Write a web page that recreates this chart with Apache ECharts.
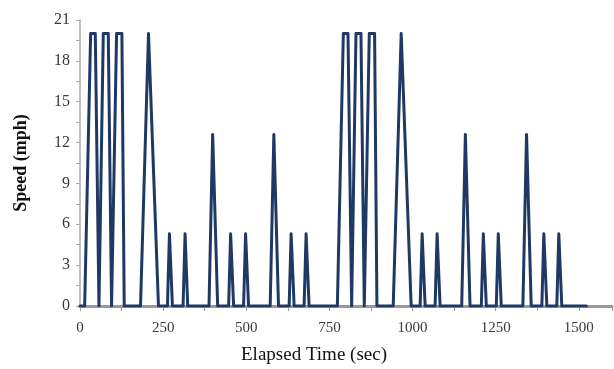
<!DOCTYPE html>
<html>
<head>
<meta charset="utf-8">
<script src="https://cdn.jsdelivr.net/npm/echarts@6/dist/echarts.min.js"></script>
<style>
  html, body { margin: 0; padding: 0; background: #fff; }
  #main { width: 614px; height: 369px; }
</style>
</head>
<body>
<div id="main"></div>
<script>
// elapsed time (sec) and speed (mph)
var elapsedSec = [
  0, 14, 32, 46, 57, 70, 85, 95, 110, 126, 133, 182, 206, 210, 236,
  263, 269, 272, 278, 310, 316, 319, 324, 388, 399, 402, 414,
  447, 453, 456, 462, 492, 498, 501, 507, 572, 583, 586, 597,
  629, 635, 638, 644, 674, 680, 683, 689,
  774, 792, 806, 817, 830, 845, 855, 870, 886, 893, 942, 966, 970, 996,
  1023, 1029, 1032, 1038, 1068, 1074, 1077, 1083, 1148, 1159, 1162, 1173,
  1207, 1213, 1216, 1222, 1252, 1258, 1261, 1267, 1332, 1343, 1346, 1357,
  1389, 1395, 1398, 1404, 1434, 1440, 1443, 1449, 1523
];
var speedMph = [
  0, 0, 20, 20, 0, 20, 20, 0, 20, 20, 0, 0, 20, 20, 0,
  0, 5.3, 5.3, 0, 0, 5.3, 5.3, 0, 0, 12.6, 12.6, 0,
  0, 5.3, 5.3, 0, 0, 5.3, 5.3, 0, 0, 12.6, 12.6, 0,
  0, 5.3, 5.3, 0, 0, 5.3, 5.3, 0,
  0, 20, 20, 0, 20, 20, 0, 20, 20, 0, 0, 20, 20, 0,
  0, 5.3, 5.3, 0, 0, 5.3, 5.3, 0, 0, 12.6, 12.6, 0,
  0, 5.3, 5.3, 0, 0, 5.3, 5.3, 0, 0, 12.6, 12.6, 0,
  0, 5.3, 5.3, 0, 0, 5.3, 5.3, 0, 0
];

var points = elapsedSec.map(function (t, i) { return [t, speedMph[i]]; });

var serif = '"Liberation Serif", "DejaVu Serif", serif';
var chart = echarts.init(document.getElementById('main'));
chart.setOption({
  animation: false,
  grid: { left: 80, top: 20, width: 532, height: 286, outerBoundsMode: 'none', containLabel: false },
  xAxis: {
    type: 'value',
    min: 0, max: 1600, interval: 250,
    name: 'Elapsed Time (sec)',
    nameLocation: 'middle',
    nameGap: 40,
    nameTextStyle: { fontFamily: serif, fontSize: 19, color: '#111', padding: [0, 64, 0, 0] },
    axisLine: { show: true, lineStyle: { color: '#999', width: 3 } },
    axisTick: { show: true, inside: false, length: 5, lineStyle: { color: '#999' } },
    minorTick: { show: true, splitNumber: 2, length: 5, lineStyle: { color: '#999' } },
    splitLine: { show: false },
    axisLabel: {
      fontFamily: serif, fontSize: 15, color: '#3a3a3a', margin: 15,
      formatter: function (v) { return v > 1500 ? '' : v; }
    }
  },
  yAxis: {
    type: 'value',
    min: 0, max: 21, interval: 3,
    name: 'Speed (mph)',
    nameLocation: 'middle',
    nameGap: 50,
    nameRotate: 90,
    nameTextStyle: { fontFamily: serif, fontSize: 18, fontWeight: 'bold', color: '#111' },
    axisLine: { show: true, lineStyle: { color: '#aaa', width: 1.5 } },
    axisTick: { show: true, inside: false, length: 4, lineStyle: { color: '#aaa' } },
    minorTick: { show: true, splitNumber: 2, length: 4, lineStyle: { color: '#aaa' } },
    splitLine: { show: false },
    axisLabel: { fontFamily: serif, fontSize: 16, color: '#3a3a3a', margin: 10 }
  },
  series: [{
    type: 'line',
    data: points,
    showSymbol: false,
    lineStyle: { color: '#1f3864', width: 3, cap: 'round', join: 'round' }
  }]
});
</script>
</body>
</html>
